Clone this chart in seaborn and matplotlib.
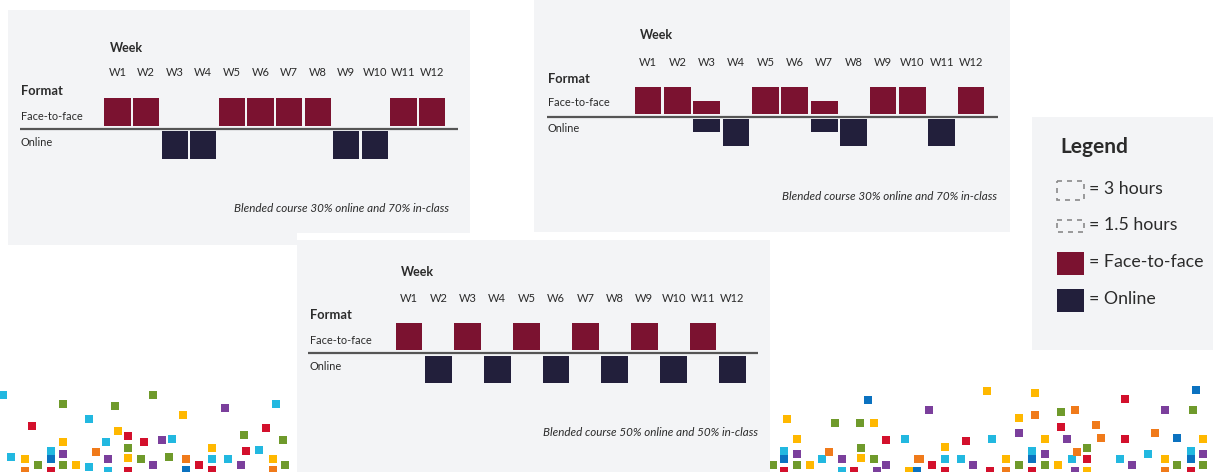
import numpy as np
import pandas as pd
import seaborn as sns
import matplotlib.pyplot as plt
from matplotlib.patches import Rectangle

sns.set_style('white')
plt.rcParams['font.family'] = ['Lato', 'DejaVu Sans']

# ---- data ----
weeks = ['W1', 'W2', 'W3', 'W4', 'W5', 'W6', 'W7', 'W8', 'W9', 'W10', 'W11', 'W12']

# hours per week
f2f_a = [3, 3, 0, 0, 3, 3, 3, 3, 0, 0, 3, 3]
online_a = [0, 0, 3, 3, 0, 0, 0, 0, 3, 3, 0, 0]
f2f_b = [3, 3, 1.5, 0, 3, 3, 1.5, 0, 3, 3, 0, 3]
online_b = [0, 0, 1.5, 3, 0, 0, 1.5, 3, 0, 0, 3, 0]
f2f_c = [3, 0, 3, 0, 3, 0, 3, 0, 3, 0, 3, 0]
online_c = [0, 3, 0, 3, 0, 3, 0, 3, 0, 3, 0, 3]

caption_a = 'Blended course 30% online and 70% in-class'
caption_b = 'Blended course 30% online and 70% in-class'
caption_c = 'Blended course 50% online and 50% in-class'

legend_items = ['= 3 hours', '= 1.5 hours', '= Face-to-face', '= Online']

# decorative confetti (pixel positions)
confetti = {
    'cyan': [(3, 395), (89, 419), (106, 442), (51, 451), (11, 457), (89, 467), (108, 471), (276, 404),
             (172, 439), (259, 450), (212, 459), (228, 459), (905, 439), (784, 451), (822, 459), (842, 471),
             (992, 439), (1032, 451), (945, 459), (961, 459), (1148, 454), (1191, 451), (1120, 459), (1072, 459)],
    'green': [(63, 404), (115, 406), (128, 448), (141, 459), (38, 465), (63, 465), (153, 395), (244, 435),
              (283, 440), (169, 457), (285, 465), (835, 423), (860, 423), (861, 448), (874, 459), (797, 465),
              (773, 465), (1061, 412), (1019, 465), (1045, 465), (1193, 410), (1087, 448), (1177, 465), (1203, 465)],
    'red': [(32, 426), (128, 436), (144, 442), (51, 471), (128, 471), (266, 428), (246, 451), (199, 465),
            (212, 470), (886, 440), (784, 471), (854, 471), (1061, 427), (966, 441), (932, 465), (945, 471),
            (990, 471), (1032, 471), (1125, 399), (1125, 439), (1087, 459), (1191, 471)],
    'yellow': [(118, 431), (63, 442), (25, 459), (128, 458), (76, 465), (183, 415), (212, 448), (273, 459),
               (787, 419), (874, 423), (797, 439), (861, 458), (810, 465), (909, 471), (987, 391), (1035, 393),
               (1019, 418), (1045, 439), (945, 447), (1006, 459), (1058, 465), (1203, 439), (1165, 459), (1087, 471)],
    'orange': [(96, 452), (25, 471), (186, 459), (273, 470), (829, 452), (918, 459), (1035, 415), (920, 459),
               (1006, 471), (1075, 410), (1096, 425), (1155, 433), (1101, 438), (1077, 452), (1165, 471)],
    'purple': [(63, 454), (108, 459), (225, 408), (162, 440), (153, 465), (241, 465), (797, 454), (842, 459),
               (886, 465), (877, 471), (929, 410), (1019, 433), (1067, 439), (1045, 454), (973, 465),
               (1165, 410), (1203, 454), (1132, 465), (1075, 471)],
    'blue': [(51, 459), (186, 470), (868, 400), (784, 459), (917, 471), (1032, 459), (1196, 390),
             (1177, 438), (1191, 459)],
}

# ---- style ----
W, H = 1213, 472
MAROON = '#7b1230'
NAVY = '#221f3b'
PANEL = '#f3f4f6'
TXT = '#2b2b2b'
dot_colors = {'cyan': '#22b8e0', 'green': '#6f9a2b', 'red': '#d3102c', 'yellow': '#ffb800',
              'orange': '#f07a1a', 'purple': '#7b3f9c', 'blue': '#0b72c0'}


def frac(x0, y0, x1, y1):
    return [x0 / W, 1 - y1 / H, (x1 - x0) / W, (y1 - y0) / H]


fig = plt.figure(figsize=(W / 100, H / 100), dpi=100)
fig.patch.set_facecolor('white')

# background with confetti
bg = fig.add_axes([0, 0, 1, 1], zorder=0)
rows = [(x, y, c) for c, pts in confetti.items() for x, y in pts]
dots = pd.DataFrame(rows, columns=['x', 'y', 'colour'])
sns.scatterplot(data=dots, x='x', y='y', hue='colour', palette=dot_colors, marker='s', s=26,
                linewidth=0, legend=False, ax=bg)
bg.set_xlim(0, W)
bg.set_ylim(H, 0)
bg.axis('off')


def draw_panel(lay, f2f, online, caption, z):
    x0, y0, x1, y1 = lay['rect']
    cx0, pitch, yb, hpx = lay['cx0'], lay['pitch'], lay['yb'], lay['hpx']
    ax = fig.add_axes(frac(x0, y0, x1, y1), zorder=z)
    ax.set_facecolor(PANEL)

    def dx(px):
        return (px - cx0) / pitch

    def dy(py):
        return (yb - py) / hpx

    g = lay['gap']
    sns.barplot(x=weeks, y=f2f, color=MAROON, width=0.91, saturation=1, linewidth=0,
                bottom=g, ax=ax)
    sns.barplot(x=weeks, y=[-v for v in online], color=NAVY, width=0.91, saturation=1,
                linewidth=0, bottom=-g, ax=ax)
    ax.set_xlim(dx(x0), dx(x1))
    ax.set_ylim(dy(y1), dy(y0))
    ax.set_xticks([])
    ax.set_yticks([])
    ax.set(xlabel='', ylabel='')
    for s in ax.spines.values():
        s.set_visible(False)

    ax.plot([dx(lay['line'][0]), dx(lay['line'][1])], [0, 0], color='#555555', lw=1.6,
            solid_capstyle='butt', zorder=5)
    ax.text(dx(lay['week'][0]), dy(lay['week'][1]), 'Week', fontsize=9, fontweight='bold',
            color=TXT, va='center', ha='left')
    for i, w in enumerate(weeks):
        ax.text(i, dy(lay['wy']), w, fontsize=8, color=TXT, va='center', ha='center')
    ax.text(dx(lay['lab_x']), dy(lay['fmt_y']), 'Format', fontsize=9.3, fontweight='bold',
            color=TXT, va='center', ha='left')
    ax.text(dx(lay['lab_x']), dy(lay['f2f_y']), 'Face-to-face', fontsize=7.9, color=TXT,
            va='center', ha='left')
    ax.text(dx(lay['lab_x']), dy(lay['onl_y']), 'Online', fontsize=7.9, color=TXT,
            va='center', ha='left')
    ax.text(dx(lay['cap'][0]), dy(lay['cap'][1]), caption, fontsize=8.4, style='italic',
            color=TXT, va='center', ha='right')
    return ax


lay_a = dict(rect=(8, 10, 470, 245), cx0=117.5, pitch=28.6, yb=128.5, hpx=9.33, gap=0.22,
             line=(20, 458), week=(110, 48), wy=73, lab_x=21, fmt_y=91, f2f_y=116, onl_y=142,
             cap=(449, 209))
lay_b = dict(rect=(534, 0, 1010, 232), cx0=648, pitch=29.36, yb=116.5, hpx=8.8, gap=0.3,
             line=(547, 998), week=(640, 35), wy=62, lab_x=548, fmt_y=79, f2f_y=103, onl_y=129,
             cap=(997, 197))
lay_c = dict(rect=(297, 240, 770, 472), cx0=409, pitch=29.4, yb=352.8, hpx=9.0, gap=0.3,
             line=(308, 758), week=(401, 272), wy=298, lab_x=310, fmt_y=315, f2f_y=340, onl_y=366,
             cap=(758, 433))

draw_panel(lay_a, f2f_a, online_a, caption_a, 1)
draw_panel(lay_b, f2f_b, online_b, caption_b, 1)

# white margin of the lower panel laid over the first one
x0, y0, w0, h0 = frac(297, 233, 775, 240)
fig.add_artist(Rectangle((x0, y0), w0, h0, transform=fig.transFigure, facecolor='white',
                         edgecolor='none', zorder=2))
draw_panel(lay_c, f2f_c, online_c, caption_c, 3)

# legend panel
lg = fig.add_axes(frac(1032, 117, 1213, 350), zorder=1)
lg.set_facecolor(PANEL)
lg.set_xlim(1032, 1213)
lg.set_ylim(350, 117)
lg.set_xticks([])
lg.set_yticks([])
for s in lg.spines.values():
    s.set_visible(False)
lg.text(1060, 147, 'Legend', fontsize=15, fontweight='bold', color=TXT, va='center', ha='left')
box_y = [190, 226, 263, 300]
box_h = [19, 12, 23, 23]
box_style = [dict(facecolor='none', edgecolor='#8a8a8a', linestyle=(0, (3, 3)), lw=1.2),
             dict(facecolor='none', edgecolor='#8a8a8a', linestyle=(0, (3, 3)), lw=1.2),
             dict(facecolor=MAROON, edgecolor='none'),
             dict(facecolor=NAVY, edgecolor='none')]
for yc, hh, st, label in zip(box_y, box_h, box_style, legend_items):
    lg.add_patch(Rectangle((1057, yc - hh / 2), 27, hh, **st))
    lg.text(1089, yc - 1, label, fontsize=12.8, color=TXT, va='center', ha='left')

fig.savefig('out.png', dpi=100, facecolor='white')
